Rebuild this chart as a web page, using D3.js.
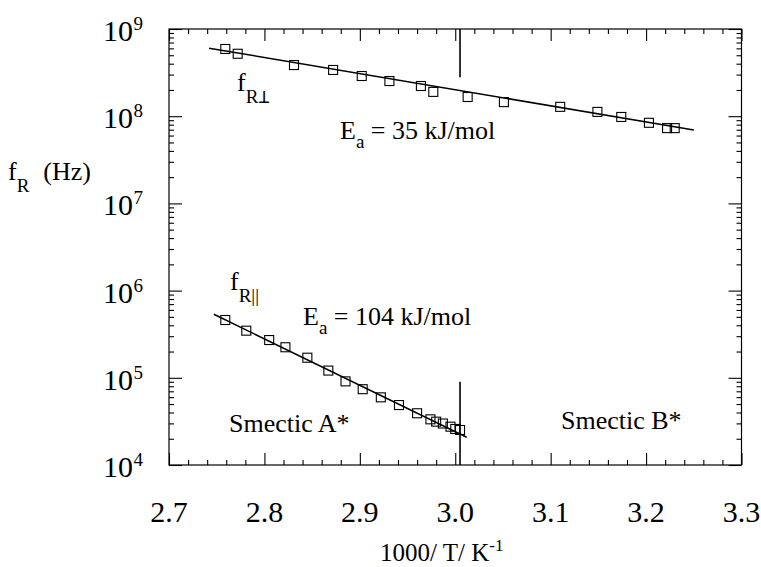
<!DOCTYPE html>
<html>
<head>
<meta charset="utf-8">
<script src="https://cdn.jsdelivr.net/npm/d3@7"></script>
</head>
<body style="margin:0">
<svg id="chart" width="761" height="567"></svg>
<script>
// ---- data ----
const perpX = [2.759, 2.772, 2.831, 2.872, 2.902, 2.931, 2.964, 2.977, 3.013, 3.051, 3.110, 3.149, 3.174, 3.203, 3.222, 3.230];
const perpY = [5.9e8, 5.2e8, 3.86e8, 3.39e8, 2.89e8, 2.53e8, 2.22e8, 1.90e8, 1.66e8, 1.45e8, 1.28e8, 1.12e8, 9.8e7, 8.4e7, 7.3e7, 7.3e7];
const paraX = [2.759, 2.781, 2.805, 2.822, 2.845, 2.867, 2.885, 2.903, 2.922, 2.941, 2.960, 2.974, 2.980, 2.987, 2.995, 3.000, 3.005];
const paraY = [4.6e5, 3.47e5, 2.71e5, 2.24e5, 1.70e5, 1.21e5, 9.1e4, 7.4e4, 5.97e4, 4.87e4, 3.92e4, 3.34e4, 3.14e4, 2.99e4, 2.75e4, 2.59e4, 2.52e4];
const perpFitX = [2.742, 3.250];
const perpFitY = [6.03e8, 6.95e7];
const paraFitX = [2.747, 3.012];
const paraFitY = [5.35e5, 2.08e4];
const transitionX = 3.005;
const transitionUpper = [2.8e8, 1e9];
const transitionLower = [1e4, 9.0e4];
const xTicks = [2.7, 2.8, 2.9, 3.0, 3.1, 3.2, 3.3];
const xTickLabels = ["2.7", "2.8", "2.9", "3.0", "3.1", "3.2", "3.3"];
const yExponents = [4, 5, 6, 7, 8, 9];

// ---- layout ----
const svg = d3.select("#chart");
const L = 169, R = 741.5, T = 29, B = 465;
const x = d3.scaleLinear().domain([2.7, 3.3]).range([L, R]);
const y = d3.scaleLog().domain([1e4, 1e9]).range([B, T]);
const FS = 26, TFS = 30;
const setFont = s => s.style("font-family", d => `'Liberation Serif', monospace`);
const txt = (sel) => sel.append("text").call(setFont);

// frame
svg.append("rect").attr("x", L).attr("y", T).attr("width", R - L).attr("height", B - T)
  .attr("fill", "none").attr("stroke", "#000").attr("stroke-width", 1.2);

// x ticks
const xMinor = d3.range(0, 31).map(i => 2.7 + i * 0.02).filter(v => Math.abs(Math.round(v * 10) - v * 10) > 1e-6);
const xMajor = xTicks;
const styleAxis = g => { g.select(".domain").remove(); g.selectAll("line").attr("stroke", "#000").attr("stroke-width", 1.1); };
svg.append("g").attr("transform", `translate(0,${B})`)
  .call(d3.axisBottom(x).tickValues(xMinor).tickSize(-5).tickFormat("")).call(styleAxis);
svg.append("g").attr("transform", `translate(0,${B})`)
  .call(d3.axisBottom(x).tickValues(xMajor).tickSize(-12).tickFormat("")).call(styleAxis);
svg.append("g").attr("transform", `translate(0,${T})`)
  .call(d3.axisTop(x).tickValues(xMinor).tickSize(-5).tickFormat("")).call(styleAxis);
svg.append("g").attr("transform", `translate(0,${T})`)
  .call(d3.axisTop(x).tickValues(xMajor).tickSize(-12).tickFormat("")).call(styleAxis);

// y ticks
const yMajor = yExponents.map(e => Math.pow(10, e));
const yMinor = [];
yExponents.slice(0, -1).forEach(e => { for (let k = 2; k <= 9; k++) yMinor.push(k * Math.pow(10, e)); });
svg.append("g").attr("transform", `translate(${L},0)`)
  .call(d3.axisLeft(y).tickValues(yMinor).tickSize(-5).tickFormat("")).call(styleAxis);
svg.append("g").attr("transform", `translate(${L},0)`)
  .call(d3.axisLeft(y).tickValues(yMajor).tickSize(-13).tickFormat("")).call(styleAxis);
svg.append("g").attr("transform", `translate(${R},0)`)
  .call(d3.axisRight(y).tickValues(yMinor).tickSize(-5).tickFormat("")).call(styleAxis);
svg.append("g").attr("transform", `translate(${R},0)`)
  .call(d3.axisRight(y).tickValues(yMajor).tickSize(-13).tickFormat("")).call(styleAxis);

// x tick labels
svg.append("g").selectAll("text").data(xTicks).join("text")
  .call(setFont)
  .attr("x", d => x(d)).attr("y", 522).attr("text-anchor", "middle")
  .attr("font-size", TFS).text((d, i) => xTickLabels[i]);

// y tick labels
svg.append("g").selectAll("text").data(yExponents).join("text")
  .call(setFont)
  .attr("x", 133).attr("y", d => y(Math.pow(10, d)) + 12).attr("text-anchor", "end")
  .attr("font-size", TFS).text("10");
svg.append("g").selectAll("text").data(yExponents).join("text")
  .call(setFont)
  .attr("x", 133.5).attr("y", d => y(Math.pow(10, d)) + 1).attr("font-size", 19)
  .text(d => String(d));

// axis titles
const xt = txt(svg).attr("x", 380).attr("y", 561).attr("font-size", 25);
xt.append("tspan").text("1000/ T/ K");
xt.append("tspan").attr("dy", -10).attr("font-size", 17).text("-1");

const ytl = txt(svg).attr("x", 8).attr("y", 180).attr("font-size", FS);
ytl.append("tspan").text("f");
ytl.append("tspan").attr("dy", 12).attr("font-size", 19).text("R");
ytl.append("tspan").attr("dy", -12).attr("dx", 14).text("(Hz)");

// transition line
svg.append("line").attr("x1", x(transitionX)).attr("x2", x(transitionX))
  .attr("y1", y(transitionUpper[0])).attr("y2", y(transitionUpper[1]))
  .attr("stroke", "#000").attr("stroke-width", 1.6);
svg.append("line").attr("x1", x(transitionX)).attr("x2", x(transitionX))
  .attr("y1", y(transitionLower[0])).attr("y2", y(transitionLower[1]))
  .attr("stroke", "#000").attr("stroke-width", 1.6);

// fit lines
const line = d3.line().x(d => x(d[0])).y(d => y(d[1]));
svg.append("path").datum(d3.zip(perpFitX, perpFitY)).attr("d", line)
  .attr("fill", "none").attr("stroke", "#000").attr("stroke-width", 1.5);
svg.append("path").datum(d3.zip(paraFitX, paraFitY)).attr("d", line)
  .attr("fill", "none").attr("stroke", "#000").attr("stroke-width", 1.5);

// markers
const S = 9;
function squares(xs, ys) {
  svg.append("g").selectAll("rect").data(d3.zip(xs, ys)).join("rect")
    .attr("x", d => x(d[0]) - S / 2).attr("y", d => y(d[1]) - S / 2)
    .attr("width", S).attr("height", S)
    .attr("fill", "none").attr("stroke", "#000").attr("stroke-width", 1.1);
}
squares(perpX, perpY);
squares(paraX, paraY);

// annotations
function fLabel(px, py, sub) {
  const t = txt(svg).attr("x", px).attr("y", py).attr("font-size", FS);
  t.append("tspan").text("f");
  t.append("tspan").attr("dy", 12).attr("font-size", 19).text(sub);
}
fLabel(237, 91, "R\u22A5");
fLabel(230, 290, "R||");

function eaLabel(px, py, rest) {
  const t = txt(svg).attr("x", px).attr("y", py).attr("font-size", FS);
  t.append("tspan").text("E");
  t.append("tspan").attr("dy", 9).attr("font-size", 19).text("a");
  t.append("tspan").attr("dy", -9).text(" = " + rest);
}
eaLabel(340, 139, "35 kJ/mol");
eaLabel(303, 325, "104 kJ/mol");

txt(svg).attr("x", 229).attr("y", 432).attr("font-size", FS).text("Smectic A*");
txt(svg).attr("x", 561).attr("y", 429).attr("font-size", FS).text("Smectic B*");
</script>
</body>
</html>
